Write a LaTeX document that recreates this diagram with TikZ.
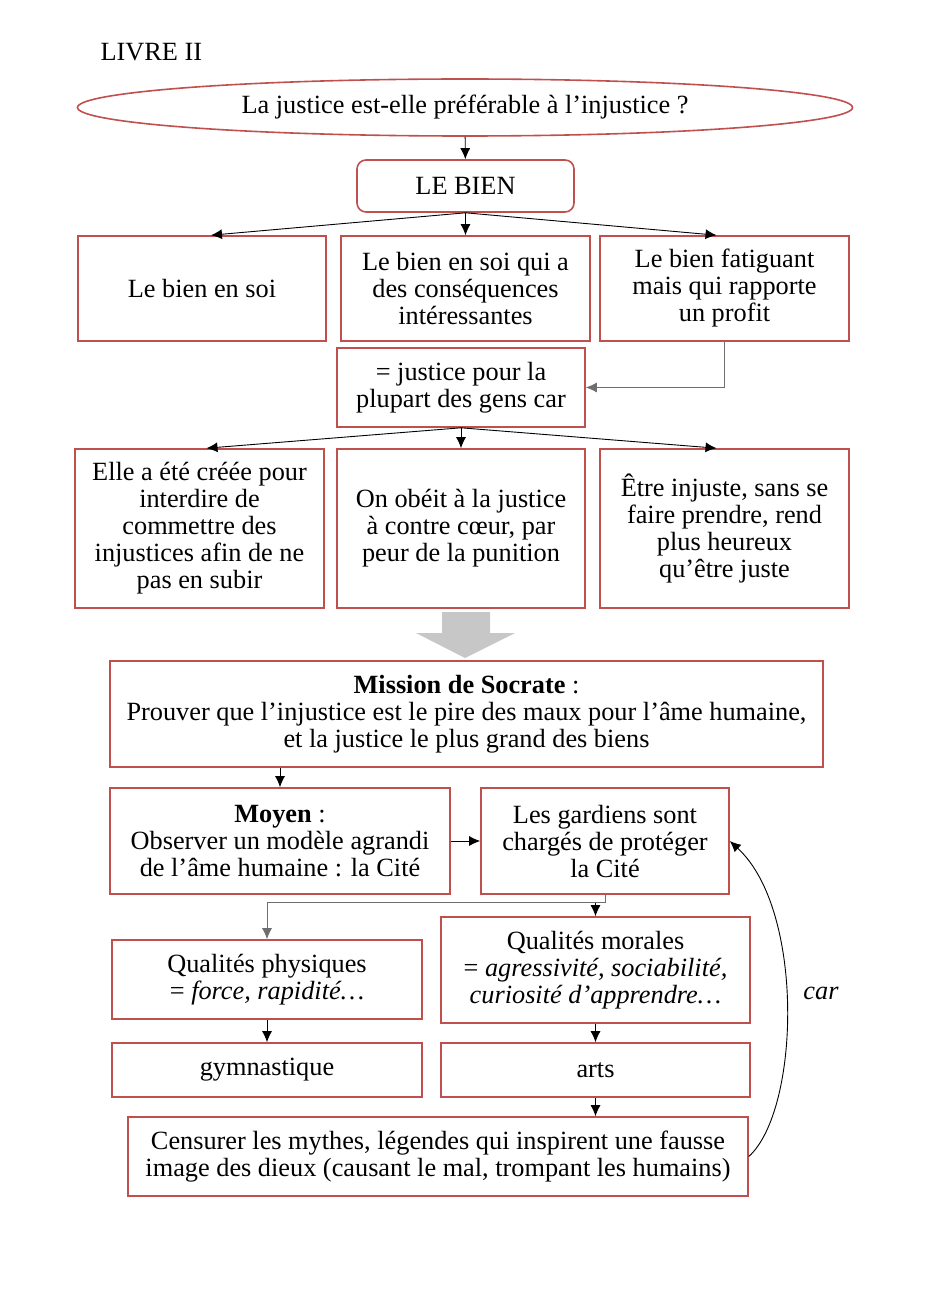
\documentclass[tikz,border=0pt]{standalone}
\usepackage{fontspec}
\setmainfont{Liberation Serif}
\usetikzlibrary{shapes.geometric,arrows.meta}
\definecolor{boxred}{RGB}{192,80,77}
\definecolor{linkgray}{RGB}{110,110,110}

\begin{document}
\begin{tikzpicture}[x=1pt,y=-1pt,
		font=\fontsize{26.3}{27}\selectfont,
		box/.style={draw=boxred,line width=1.6pt,align=center,inner sep=2pt},
		arr/.style={-{Latex[length=11pt,width=10pt]},line width=0.9pt}]
		\useasboundingbox (0,0) rectangle (936,1297);
		
		% Title and question
		\node[anchor=west] (livre) at (97,52) {LIVRE II};
		\node[box,ellipse,minimum width=775pt,minimum height=57pt] (question) at (465,107.5) {La justice est-elle préférable à l’injustice ?};
		\node[box,rounded corners=9pt,minimum width=217pt,minimum height=52pt] (bien) at (465.5,186) {LE BIEN};
		
		% Three kinds of good
		\node[box,minimum width=248pt,minimum height=105pt] (soi) at (202,288.5) {Le bien en soi};
		\node[box,minimum width=249pt,minimum height=105pt] (cons) at (465.5,288.5) {Le bien en soi qui a\\des conséquences\\intéressantes};
		\node[box,minimum width=249pt,minimum height=105pt] (fatig) at (724.5,288.5) {Le bien fatiguant\\mais qui rapporte\\un profit};
		\node[box,minimum width=248pt,minimum height=79pt] (just) at (461,387.5) {= justice pour la\\plupart des gens car};
		
		% Reasons
		\node[box,minimum width=249pt,minimum height=159pt] (cree) at (199.5,528.5) {Elle a été créée pour\\interdire de\\commettre des\\injustices afin de ne\\pas en subir};
		\node[box,minimum width=248pt,minimum height=159pt] (obeit) at (461,528.5) {On obéit à la justice\\à contre cœur, par\\peur de la punition};
		\node[box,minimum width=249pt,minimum height=159pt] (etre) at (724.5,528.5) {Être injuste, sans se\\faire prendre, rend\\plus heureux\\qu’être juste};
		
		% Big arrow
		\fill[black!22] (442,612) -- (490,612) -- (490,633) -- (515,633) -- (465,658) -- (416,633) -- (442,633) -- cycle;
		
		% Socrates
		\node[box,minimum width=713pt,minimum height=106pt] (mission) at (466.5,714) {\textbf{Mission de Socrate} :\\Prouver que l’injustice est le pire des maux pour l’âme humaine,\\et la justice le plus grand des biens};
		\node[box,minimum width=340pt,minimum height=106pt] (moyen) at (280,841) {\textbf{Moyen} :\\Observer un modèle agrandi\\de l’âme humaine : la Cité};
		\node[box,minimum width=248pt,minimum height=106pt] (gard) at (605,841) {Les gardiens sont\\chargés de protéger\\la Cité};
		\node[box,minimum width=310pt,minimum height=79pt] (phys) at (267,979.5) {Qualités physiques\\= \textit{force, rapidité…}};
		\node[box,minimum width=309pt,minimum height=106pt] (mor) at (595.5,970) {Qualités morales\\= \textit{agressivité, sociabilité,}\\\textit{curiosité d’apprendre…}};
		\node[box,minimum width=310pt,minimum height=54pt] (gym) at (267,1070) {gymnastique};
		\node[box,minimum width=309pt,minimum height=54pt] (arts) at (595.5,1070) {arts};
		\node[box,minimum width=620pt,minimum height=79pt] (cens) at (438,1156.5) {Censurer les mythes, légendes qui inspirent une fausse\\image des dieux (causant le mal, trompant les humains)};
		\node[font=\fontsize{26.3}{27}\selectfont\itshape] (car) at (821,993) {car};
		
		% Connectors
		\draw[arr] (question) -- (bien);
		\draw[arr] (bien.south) -- ([xshift=9pt]soi.north);
		\draw[arr] (bien.south) -- (cons.north);
		\draw[arr] (bien.south) -- ([xshift=-8pt]fatig.north);
		\draw[arr,draw=linkgray] (fatig.south) |- (just.east);
		\draw[arr] (just.south) -- ([xshift=7pt]cree.north);
		\draw[arr] (just.south) -- (obeit.north);
		\draw[arr] (just.south) -- ([xshift=-8pt]etre.north);
		\draw[arr] (moyen.north |- mission.south) -- (moyen.north);
		\draw[arr] (moyen.east) -- (gard.west);
		\coordinate (split) at ([yshift=-8pt]gard.south);
		\draw[line width=0.9pt,draw=linkgray] (gard.south) -- (split);
		\draw[arr,draw=linkgray] (split) -| (phys.north);
		\draw[arr] (split -| mor.north) -- (mor.north);
		\draw[arr] (phys) -- (gym);
		\draw[arr] (mor) -- (arts);
		\draw[arr] (arts.south) -- (arts.south |- cens.north);
		\draw[arr] (cens.east) .. controls (800,1110) and (805,910) .. (gard.east);
		
\end{tikzpicture}
\end{document}
